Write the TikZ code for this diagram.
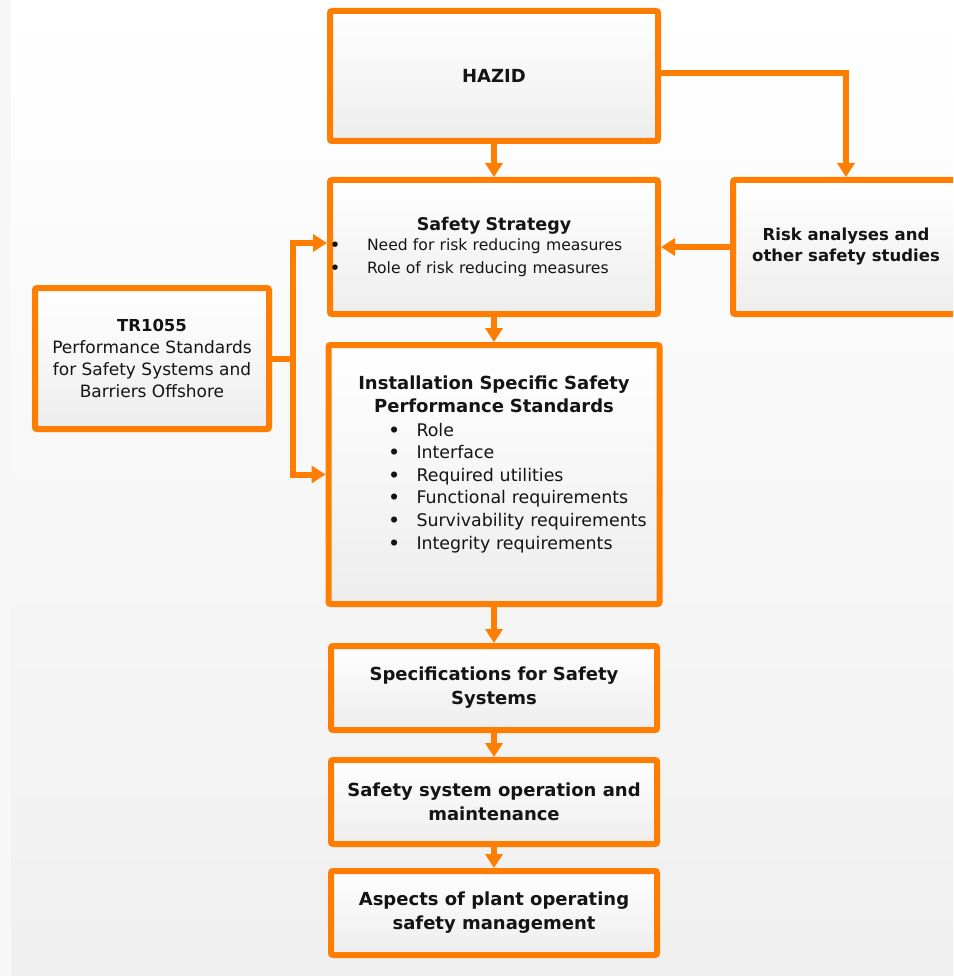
\documentclass[tikz,border=0pt]{standalone}
\usepackage{fontspec}
\setmainfont{DejaVu Sans}
\usetikzlibrary{arrows.meta}
\definecolor{boxorange}{RGB}{255,125,0}
\newcommand{\bul}[3]{\hspace*{#1}\makebox[#2][l]{\bfseries\textbullet}#3}

\begin{document}
\begin{tikzpicture}[x=1pt, y=-1pt,
    box/.style={draw=boxorange, line width=6pt, rounded corners=2pt, top color=white, bottom color=black!7, text=black!92, inner sep=0pt, align=center},
    link/.style={draw=boxorange, line width=6pt},
    arr/.style={link, -{Triangle[width=17pt,length=14pt]}}]
\clip (0,0) rectangle (953,976);
\shade[top color=white, bottom color=black!6] (0,0) rectangle (953,976);
\fill[black!3] (0,0) rectangle (11,976);

\node[box, minimum width=328pt, minimum height=130pt, font=\fontsize{18}{22}\selectfont\bfseries] (hazid) at (494,76) {HAZID};
\node[box, minimum width=328pt, minimum height=134pt, text width=328pt, align=left, font=\fontsize{15.6}{23}\selectfont] (strat) at (494,247)
    {\makebox[\linewidth]{\fontsize{17.5}{20}\selectfont\bfseries Safety Strategy}\\[-3pt]
     \bul{0pt}{37pt}{Need for risk reducing measures}\\
     \bul{0pt}{37pt}{Role of risk reducing measures}};
\node[box, minimum width=226pt, minimum height=134pt, font=\fontsize{16.5}{21}\selectfont\bfseries] (risk) at (846,247) {Risk analyses and\\other safety studies};
\node[box, minimum width=234pt, minimum height=141pt, font=\fontsize{17}{22}\selectfont] (tr) at (152,358.5)
    {{\fontsize{16.5}{22}\selectfont\bfseries TR1055}\\Performance Standards\\for Safety Systems and\\Barriers Offshore};
\node[box, minimum width=331pt, minimum height=259pt, text width=331pt, align=left, font=\fontsize{17.4}{22.6}\selectfont] (inst) at (494,474.5)
    {\makebox[\linewidth]{\fontsize{18}{22}\selectfont\bfseries Installation Specific Safety}\\
     \makebox[\linewidth]{\fontsize{18}{22}\selectfont\bfseries Performance Standards}\\[1pt]
     \bul{60pt}{28pt}{Role}\\
     \bul{60pt}{28pt}{Interface}\\
     \bul{60pt}{28pt}{Required utilities}\\
     \bul{60pt}{28pt}{Functional requirements}\\
     \bul{60pt}{28pt}{Survivability requirements}\\
     \bul{60pt}{28pt}{Integrity requirements}\par\vspace*{20pt}};
\node[box, minimum width=326pt, minimum height=84pt, font=\fontsize{18}{24}\selectfont\bfseries] (spec) at (494,688) {Specifications for Safety\\Systems};
\node[box, minimum width=326pt, minimum height=84pt, font=\fontsize{18}{24}\selectfont\bfseries] (oper) at (494,802) {Safety system operation and\\maintenance};
\node[box, minimum width=326pt, minimum height=84pt, font=\fontsize{18}{24}\selectfont\bfseries] (asp) at (494,913) {Aspects of plant operating\\safety management};

\draw[arr] (hazid) -- (strat);
\draw[arr] ([yshift=3pt]hazid.east) -| (risk.north);
\draw[arr] (risk) -- (strat);
\draw[arr] (strat) -- (inst);
\draw[arr] (inst) -- (spec);
\draw[arr] (spec) -- (oper);
\draw[arr] (oper) -- (asp);
\coordinate (fork) at ([xshift=21pt]tr.east);
\draw[link] (tr.east) -- (fork);
\draw[arr] (fork) |- ([yshift=4pt]strat.west);
\draw[arr] (fork) |- (inst.west);
\end{tikzpicture}
\end{document}
